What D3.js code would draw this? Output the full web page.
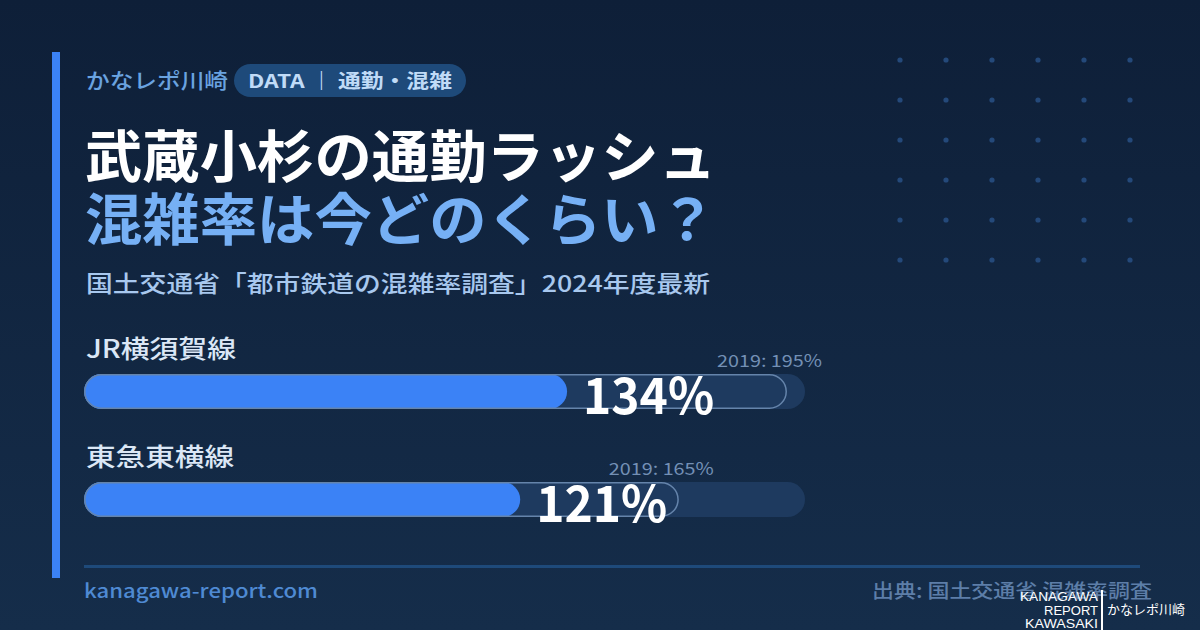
<!DOCTYPE html>
<html><head><meta charset="utf-8">
<script src="https://cdn.jsdelivr.net/npm/d3@7"></script>
<style>html,body{margin:0;padding:0;background:#0f213a;}svg{display:block;}</style>
</head><body>
<script>
const lines = ["JR横須賀線", "東急東横線"];
const rate2024 = [134, 121];
const rate2019 = [195, 165];
const axisMax = 200;
const eyebrow = "かなレポ川崎";
const pillText = "DATA ｜ 通勤・混雑";
const title1 = "武蔵小杉の通勤ラッシュ";
const title2 = "混雑率は今どのくらい？";
const subtitle = "国土交通省「都市鉄道の混雑率調査」2024年度最新";
const siteUrl = "kanagawa-report.com";
const source = "出典: 国土交通省 混雑率調査";

const W = 1200, H = 630;
const F = "'Noto Sans CJK JP','Noto Sans',sans-serif";
const svg = d3.select("body").append("svg").attr("width", W).attr("height", H);
const defs = svg.append("defs");
const lg = defs.append("linearGradient").attr("id","bg").attr("x1",0).attr("y1",0).attr("x2",0).attr("y2",1);
lg.append("stop").attr("offset","0%").attr("stop-color","#0e1f38");
lg.append("stop").attr("offset","100%").attr("stop-color","#152d4a");
svg.append("rect").attr("width",W).attr("height",H).attr("fill","url(#bg)");

function txt(sel, o) {
  const t = sel.append("text").attr("x", o.x).attr("y", o.y).attr("font-family", o.ff || F)
    .attr("font-size", o.fs).attr("font-weight", o.fw || 400).attr("fill", o.fill);
  if (o.anchor) t.attr("text-anchor", o.anchor);
  if (o.len) t.attr("textLength", o.len).attr("lengthAdjust", o.adj || "spacingAndGlyphs");
  t.text(o.t);
  return t;
}

// dot grid
const dx = d3.range(6), dy = d3.range(6);
svg.append("g").selectAll("circle").data(d3.cross(dx, dy)).join("circle")
  .attr("cx", d => 900 + d[0]*46).attr("cy", d => 60 + d[1]*40).attr("r", 2.6).attr("fill", "#24497a");

// accent bar
svg.append("rect").attr("x",52).attr("y",52).attr("width",8).attr("height",526).attr("fill","#3b82f6");

// eyebrow
txt(svg, {x:86, y:88, fs:21, fw:500, fill:"#6aa3e0", len:142, t:eyebrow});
svg.append("rect").attr("x",234).attr("y",64).attr("width",232).attr("height",33).attr("rx",16.5).attr("fill","#1e4a7a");
txt(svg, {x:248, y:88, fs:19, fw:700, fill:"#c0dbf7", len:204, t:pillText});

// titles
txt(svg, {x:85, y:177, fs:56, fw:700, fill:"#ffffff", len:631, t:title1});
txt(svg, {x:85, y:240, fs:56, fw:700, fill:"#76b0f5", len:631, t:title2});
txt(svg, {x:86, y:292, fs:23, fw:500, fill:"#a8c8ee", len:624, t:subtitle});

// bars
const x = d3.scaleLinear().domain([0, axisMax]).range([84, 805]);
const rowY = d3.scalePoint().domain(lines).range([374, 482]);
const bh = 35;
const labelLen = [150, 148];
const g = svg.append("g");
const rows = g.selectAll("g.row").data(lines.map((l,i)=>({l, v:rate2024[i], p:rate2019[i], i}))).join("g");
rows.each(function(d){
  const r = d3.select(this), y0 = rowY(d.l);
  txt(r, {x:86, y:y0-16, fs:25, fw:500, fill:"#dbe7f6", len:labelLen[d.i], t:d.l});
  r.append("rect").attr("x",x(0)).attr("y",y0).attr("width",x(axisMax)-x(0)).attr("height",bh).attr("rx",bh/2).attr("fill","#1e3a5f");
  r.append("rect").attr("x",x(0)).attr("y",y0).attr("width",x(d.v)-x(0)).attr("height",bh).attr("rx",bh/2).attr("fill","#3b82f6");
  r.append("rect").attr("x",x(0)+0.75).attr("y",y0+0.75).attr("width",x(d.p)-x(0)-1.5).attr("height",bh-1.5).attr("rx",(bh-1.5)/2)
    .attr("fill","none").attr("stroke","#6584ab").attr("stroke-width",1.5);
  txt(r, {x:x(d.p)-70, y:y0-7, fs:17, fw:400, fill:"#7390b5", len:105, t:`2019: ${d.p}%`});
  txt(r, {x:x(d.v)+16, y:y0+40, fs:50, fw:700, fill:"#ffffff", len:131, t:`${d.v}%`});
});

// footer
svg.append("rect").attr("x",84).attr("y",565).attr("width",1056).attr("height",3).attr("fill","#1e4a7a");
txt(svg, {x:84, y:598, fs:19, fw:500, fill:"#4f8ad3", len:234, t:siteUrl});
txt(svg, {x:872, y:598, fs:19, fw:500, fill:"#5d7ea8", len:280, t:source});

// logo
const logo = svg.append("g");
const logoLines = ["KANAGAWA","REPORT","KAWASAKI"];
const logoLen = [78, 54, 73];
logoLines.forEach((t,i)=>{
  txt(logo, {x:1098-logoLen[i], y:601+i*13.5, ff:"'Liberation Sans',Arial,sans-serif", fs:12, fw:400, fill:"#ffffff", len:logoLen[i], t});
});
logo.append("rect").attr("x",1101).attr("y",590).attr("width",2).attr("height",40).attr("fill","#ffffff");
txt(logo, {x:1107, y:614, fs:13, fw:400, fill:"#ffffff", len:78, t:"かなレポ川崎"});
</script>
</body></html>
